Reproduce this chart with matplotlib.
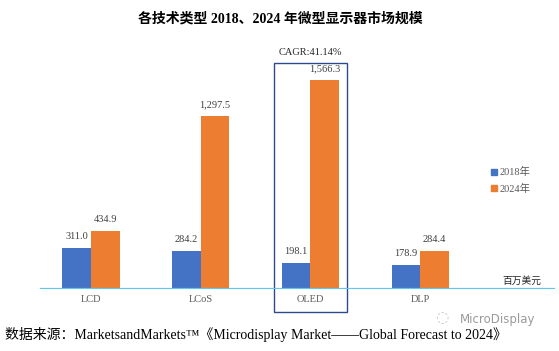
import matplotlib.pyplot as plt
from matplotlib.patches import Rectangle, Patch

# data
categories = ['LCD', 'LCoS', 'OLED', 'DLP']
sales_2018 = [311.0, 284.2, 198.1, 178.9]
sales_2024 = [434.9, 1297.5, 1566.3, 284.4]
series_names = ['2018年', '2024年']
title = '各技术类型 2018、2024 年微型显示器市场规模'
cagr_text = 'CAGR:41.14%'
unit_text = '百万美元'
source_text = '数据来源：MarketsandMarkets™《Microdisplay Market——Global Forecast to 2024》'

plt.rcParams['font.family'] = ['Liberation Serif', 'Noto Sans CJK SC']

blue = '#4472C4'
orange = '#ED7D31'
grey = '#595959'

W, H = 559, 351
fig = plt.figure(figsize=(W / 100, H / 100), dpi=100)
# axes placed in pixel terms: baseline at y=289, x from 40 to 555
ax = fig.add_axes([40 / W, 62 / H, 515 / W, 266.8 / H])

x = list(range(len(categories)))
bw = 0.26
b1 = ax.bar([i - bw / 2 for i in x], sales_2018, width=bw, color=blue)
b2 = ax.bar([i + bw / 2 for i in x], sales_2024, width=bw, color=orange)

for bars, vals in ((b1, sales_2018), (b2, sales_2024)):
    for r, v in zip(bars, vals):
        ax.annotate(f'{v:,.1f}', (r.get_x() + r.get_width() / 2, v),
                    xytext=(0, 5), textcoords='offset points',
                    ha='center', va='bottom', fontsize=7.5, color='#404040')

ax.set_xlim(-0.465, 4.23)
ax.set_ylim(0, 2000)
ax.axhline(0, color='#5BC8F0', linewidth=1.6, zorder=3)
for s in ax.spines.values():
    s.set_visible(False)
ax.set_yticks([])
ax.set_xticks(x)
ax.set_xticklabels(categories, fontsize=7.5, color=grey)
ax.tick_params(axis='x', length=0, pad=4)

# highlight box around OLED
ax.add_patch(Rectangle((1.668, -172), 0.666, 1866, fill=False,
                       edgecolor='#2E4A8A', linewidth=1.0, clip_on=False))
ax.text(2, 1775, cagr_text, ha='center', va='center', fontsize=7.5, color='#262626')

fig.text(280 / W, 1 - 19 / H, title, ha='center', va='center',
         fontsize=10, fontweight='bold', color='black')

handles = [Patch(color=blue), Patch(color=orange)]
fig.legend(handles, series_names, loc='upper left',
           bbox_to_anchor=(482 / W, 1 - 158 / H), frameon=False,
           fontsize=7.5, handlelength=0.5, handleheight=0.5,
           handletextpad=0.3, labelspacing=0.6, labelcolor=grey)

fig.text(522 / W, 1 - 281 / H, unit_text, ha='center', va='center',
         fontsize=7, color='#262626')

fig.text(5 / W, 1 - 334 / H, source_text, ha='left', va='center',
         fontsize=10, color='black')
# watermark
fig.text(442 / W, 1 - 318 / H, '◌', ha='center', va='center',
         fontsize=11, color='#c8c8c8', family='DejaVu Sans')
fig.text(498 / W, 1 - 320 / H, 'MicroDisplay', ha='center', va='center',
         fontsize=8.5, color='#9a9a9a', family='DejaVu Sans')

fig.savefig('out.png', dpi=100)
